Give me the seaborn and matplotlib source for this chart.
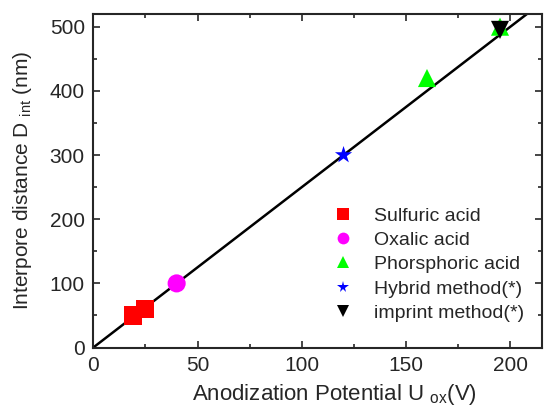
import pandas as pd
import numpy as np
import matplotlib
matplotlib.use('Agg')
import matplotlib.pyplot as plt
import seaborn as sns

# --- Datos ---
METODOS = ['Sulfuric acid', 'Oxalic acid', 'Phorsphoric acid',
           'Hybrid method(*)', 'imprint method(*)']
POTENCIAL = [19, 25, 40, 160, 195, 120, 195]
DISTANCIA = [50, 60, 100, 420, 500, 300, 495]
GRUPO = ['Sulfuric acid', 'Sulfuric acid', 'Oxalic acid',
         'Phorsphoric acid', 'Phorsphoric acid',
         'Hybrid method(*)', 'imprint method(*)']
AJUSTE_X = [0, 215]
PENDIENTE = 2.5

COLORES = {'Sulfuric acid': '#ff0000', 'Oxalic acid': '#ff00ff',
           'Phorsphoric acid': '#00ff00', 'Hybrid method(*)': '#0000ff',
           'imprint method(*)': '#000000'}
MARCADORES = {'Sulfuric acid': 's', 'Oxalic acid': 'o',
              'Phorsphoric acid': '^', 'Hybrid method(*)': '*',
              'imprint method(*)': 'v'}

sns.set_style('ticks')
plt.rcParams['font.family'] = ['Liberation Sans', 'DejaVu Sans']
plt.rcParams['mathtext.fontset'] = 'custom'
plt.rcParams['mathtext.rm'] = 'Liberation Sans'

df = pd.DataFrame({'U': POTENCIAL, 'D': DISTANCIA, 'metodo': GRUPO})

fig = plt.figure(figsize=(5.45, 4.07), dpi=100)
ax = fig.add_axes([0.171, 0.146, 0.823, 0.82])

ajuste_x = np.array(AJUSTE_X)
ax.plot(ajuste_x, PENDIENTE * ajuste_x, color='black', lw=1.8, zorder=1)

sns.scatterplot(data=df, x='U', y='D', hue='metodo', style='metodo',
                hue_order=METODOS, style_order=METODOS,
                palette=COLORES, markers=MARCADORES, s=170,
                linewidth=0, ax=ax, zorder=3)

ax.set_xlim(0, 215)
ax.set_ylim(0, 520)
ax.set_xticks([0, 50, 100, 150, 200])
ax.set_yticks([0, 100, 200, 300, 400, 500])
ax.set_xticks(np.arange(25, 215, 50), minor=True)
ax.set_yticks(np.arange(50, 520, 100), minor=True)
ax.tick_params(which='both', direction='in', top=True, right=True,
               labelsize=15, width=1.2)
ax.tick_params(which='major', length=5, pad=6)
ax.tick_params(which='minor', length=3)
for s in ax.spines.values():
    s.set_linewidth(1.5)

ax.set_xlabel(r'Anodization Potential U $_{\rm ox}$(V)', fontsize=16)
ax.xaxis.set_label_coords(0.537, -0.103)
ax.set_ylabel(r'Interpore distance D $_{\rm int}$ (nm)', fontsize=15, labelpad=11)

ley = ax.legend(loc='lower right', bbox_to_anchor=(1.0, 0.025), frameon=False,
                fontsize=14, markerscale=0.65, handletextpad=0.6,
                labelspacing=0.34)

fig.savefig('out.png', dpi=100)
